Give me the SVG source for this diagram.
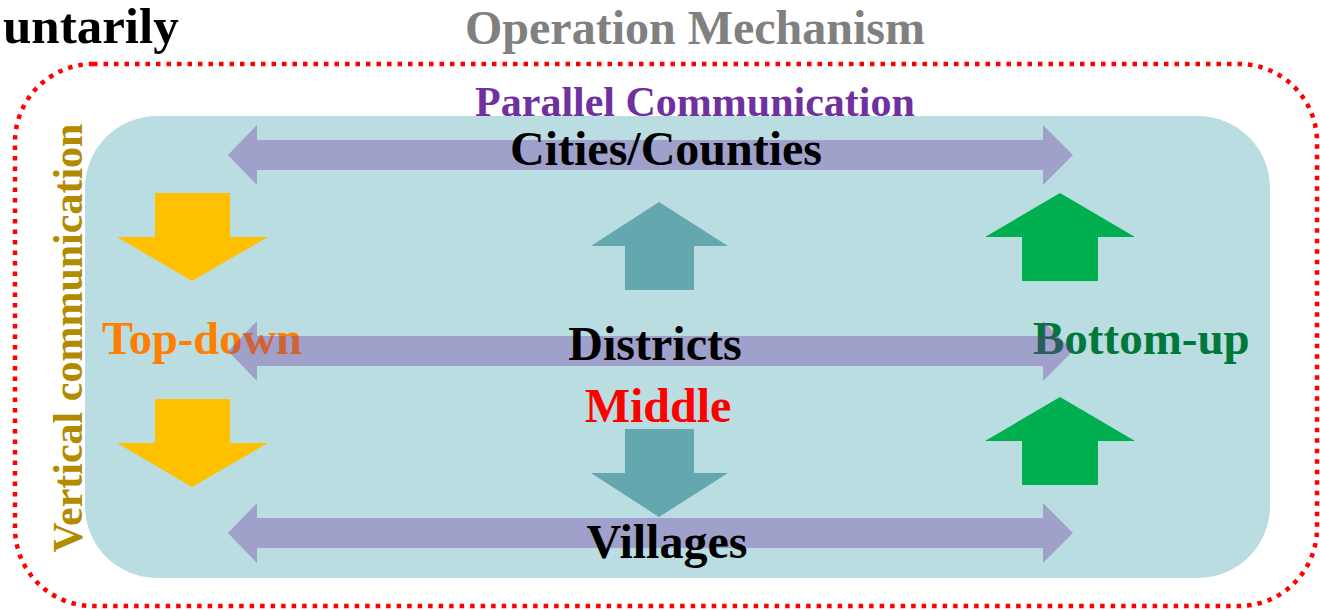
<svg xmlns="http://www.w3.org/2000/svg" width="1320" height="610" viewBox="0 0 1320 610">
  <style>
    text { font-family: "Liberation Serif", "Times New Roman", serif; font-weight: bold; }
    .hbar { fill: #7030A0; fill-opacity: 0.35; }
    .lbl { font-size: 48px; fill: #000000; text-anchor: middle; }
  </style>
  <rect x="0" y="0" width="1320" height="610" fill="#FFFFFF"/>

  <g id="title-left">
    <text x="3" y="43" font-size="51" fill="#000000">untarily</text>
  </g>
  <g id="title">
    <text x="695" y="44" font-size="48" text-anchor="middle" fill="#808080">Operation Mechanism</text>
  </g>

  <g id="frame">
    <rect x="15" y="64" width="1302" height="542" rx="78" ry="78" fill="none" stroke="#FF0000" stroke-width="4.5" stroke-dasharray="4.5 6"/>
  </g>

  <g id="panel">
    <rect x="85" y="116" width="1185" height="462" rx="72" ry="72" fill="#B9DDE1"/>
  </g>

  <g id="vertical-label">
    <text transform="translate(82,338) rotate(-90)" x="0" y="0" font-size="42" text-anchor="middle" fill="#B38B00">Vertical communication</text>
  </g>

  <g id="top-down">
    <text x="102" y="354" font-size="46.5" fill="#FF8000">Top-down</text>
  </g>
  <g id="bottom-up">
    <text x="1033" y="354" font-size="47" fill="#00783A">Bottom-up</text>
  </g>

  <g id="connectors">
    <polygon class="hbar" points="228,155 257,125 257,140 1043,140 1043,125 1073,155 1043,185 1043,170 257,170 257,185"/>
    <polygon class="hbar" points="228,351 257,321 257,336 1043,336 1043,321 1073,351 1043,381 1043,366 257,366 257,381"/>
    <polygon class="hbar" points="228,533 257,503 257,518 1043,518 1043,503 1073,533 1043,563 1043,548 257,548 257,563"/>

    <polygon fill="#FFC000" points="155,193 230,193 230,237 268,237 192,281 117,237 155,237"/>
    <polygon fill="#FFC000" points="155,399 230,399 230,443 268,443 192,487 117,443 155,443"/>

    <polygon fill="#65A7AF" points="659,202 728,246 694,246 694,290 625,290 625,246 591,246"/>
    <polygon fill="#65A7AF" points="625,429 694,429 694,473 728,473 659,517 591,473 625,473"/>

    <polygon fill="#00B050" points="1060,193 1135,237 1098,237 1098,281 1022,281 1022,237 985,237"/>
    <polygon fill="#00B050" points="1060,397 1135,441 1098,441 1098,485 1022,485 1022,441 985,441"/>
  </g>

  <g id="parallel-label">
    <text x="695" y="116" font-size="42" text-anchor="middle" fill="#7030A0">Parallel Communication</text>
  </g>
  <g id="cities">
    <text class="lbl" x="666" y="165">Cities/Counties</text>
  </g>
  <g id="districts">
    <text class="lbl" x="655" y="360">Districts</text>
  </g>
  <g id="middle">
    <text x="658" y="422" font-size="48" text-anchor="middle" fill="#FF0000">Middle</text>
  </g>
  <g id="villages">
    <text class="lbl" x="667" y="558">Villages</text>
  </g>
</svg>
